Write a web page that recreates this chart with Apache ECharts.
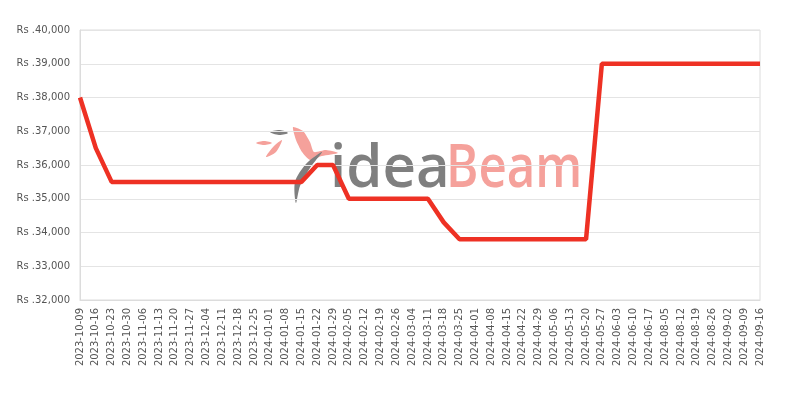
<!DOCTYPE html>
<html>
<head>
<meta charset="utf-8">
<script src="https://cdn.jsdelivr.net/npm/echarts@6/dist/echarts.min.js"></script>
<style>html,body{margin:0;padding:0;background:#fff}#c{width:800px;height:400px}</style>
</head>
<body>
<div id="c"></div>
<script>
var categories = ["2023-10-09","2023-10-16","2023-10-23","2023-10-30","2023-11-06","2023-11-13","2023-11-20","2023-11-27","2023-12-04","2023-12-11","2023-12-18","2023-12-25","2024-01-01","2024-01-08","2024-01-15","2024-01-22","2024-01-29","2024-02-05","2024-02-12","2024-02-19","2024-02-26","2024-03-04","2024-03-11","2024-03-18","2024-03-25","2024-04-01","2024-04-08","2024-04-15","2024-04-22","2024-04-29","2024-05-06","2024-05-13","2024-05-20","2024-05-27","2024-06-03","2024-06-10","2024-06-17","2024-08-05","2024-08-12","2024-08-19","2024-08-26","2024-09-02","2024-09-09","2024-09-16"];
var prices = [38000,36500,35500,35500,35500,35500,35500,35500,35500,35500,35500,35500,35500,35500,35500,36000,36000,35000,35000,35000,35000,35000,35000,34300,33800,33800,33800,33800,33800,33800,33800,33800,33800,39000,39000,39000,39000,39000,39000,39000,39000,39000,39000,39000];
var yMin = 32000, yMax = 40000, yStep = 1000;

var chart = echarts.init(document.getElementById('c'));
chart.setOption({
  animation: false,
  grid: {left: 80, right: 40, top: 30, bottom: 100, show: true, borderColor: '#dcdcdc', borderWidth: 1},
  xAxis: {
    type: 'category', data: categories, boundaryGap: false,
    axisLine: {lineStyle: {color: '#dcdcdc'}},
    axisTick: {show: false},
    axisLabel: {rotate: 90, interval: 0, color: '#555', fontSize: 10, fontFamily: 'DejaVu Sans', margin: 8},
    splitLine: {show: false}
  },
  yAxis: {
    type: 'value', min: yMin, max: yMax, interval: yStep,
    axisLine: {show: true, lineStyle: {color: '#dcdcdc'}},
    axisTick: {show: false},
    axisLabel: {color: '#555', fontSize: 10, fontFamily: 'DejaVu Sans', margin: 10,
      formatter: function (v) { return 'Rs .' + v.toLocaleString('en-US'); }},
    splitLine: {lineStyle: {color: '#e4e4e4'}}
  },
  graphic: [
    {type: 'text', x: 330, y: 140, scaleX: 0.97, z: -10, style: {text: 'idea', fill: '#7f7f7f', font: '600 60px "Open Sans"'}},
    {type: 'text', x: 446, y: 140, scaleX: 0.82, z: -10, style: {text: 'Beam', fill: '#f5a19b', font: '600 60px "Open Sans"'}},
    {type: 'polygon', z: -10, shape: {smooth: 0.2, points: [[293,127],[303,131],[310,142],[314,152],[326,150],[338,153],[322,156],[310,160],[302,152],[296,140]]}, style: {fill: '#f5a19b'}},
    {type: 'polygon', z: -10, shape: {smooth: 0.3, points: [[322,152],[306,164],[295,182],[296,203],[300,186],[310,168]]}, style: {fill: '#7f7f7f'}},
    {type: 'polygon', z: -10, shape: {smooth: 0.3, points: [[282,140],[274,146],[266,157],[276,152]]}, style: {fill: '#f5a19b'}},
    {type: 'polygon', z: -10, shape: {smooth: 0.3, points: [[256,143],[264,141],[272,143],[264,145]]}, style: {fill: '#f5a19b'}},
    {type: 'polygon', z: -10, shape: {smooth: 0.3, points: [[270,132],[280,130],[288,133],[279,135]]}, style: {fill: '#7f7f7f'}}
  ],
  series: [{
    type: 'line', data: prices, symbol: 'none', z: 5,
    lineStyle: {color: '#ee3124', width: 4.5}
  }]
});
</script>
</body>
</html>
